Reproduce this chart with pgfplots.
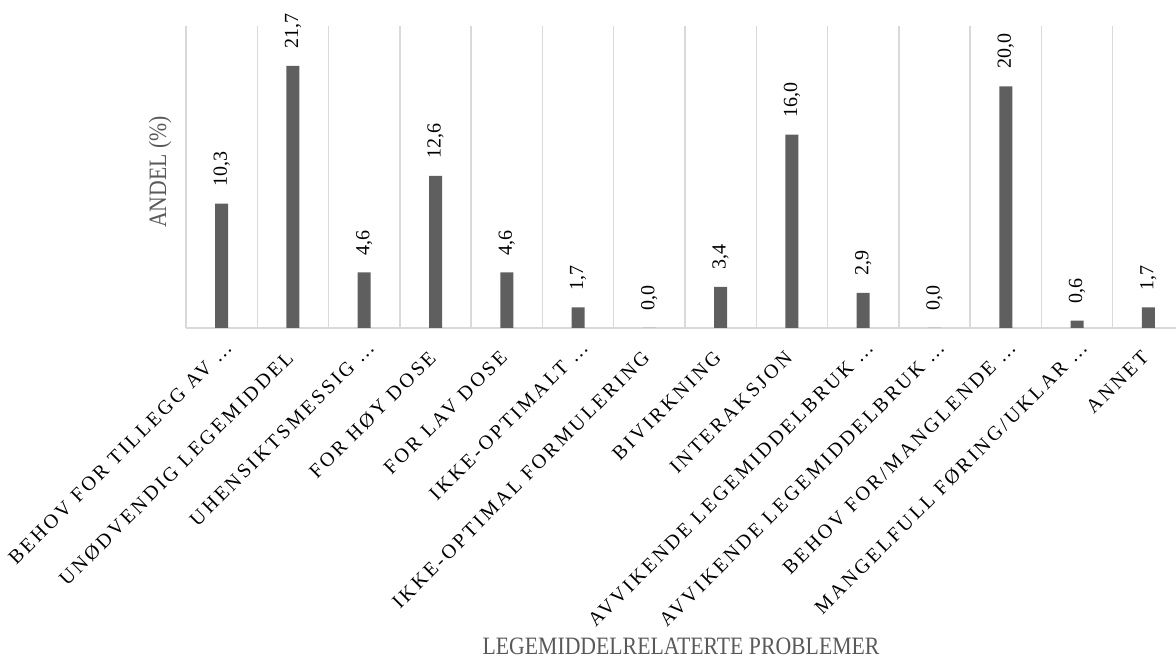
\documentclass[border=0pt]{standalone}
\usepackage{fontspec}
\setmainfont{Liberation Serif}
\newfontfamily\tickfont[LetterSpace=14]{Liberation Serif}
\newfontfamily\titlefont[FakeStretch=0.87]{Liberation Serif}
\usepackage{pgfplots}
\pgfplotsset{compat=1.18}
\definecolor{barc}{HTML}{5F5F5F}
\definecolor{gridc}{HTML}{D9D9D9}
\definecolor{titlec}{HTML}{595959}
\newcommand{\mytrunc}{…\kern-7pt\relax}
\begin{document}
\begin{tikzpicture}
\useasboundingbox (0,0) rectangle (588pt,331pt);
\clip (0,0) rectangle (588pt,331pt);
\begin{axis}[
  at={(93pt,167pt)}, anchor=south west,
  scale only axis, width=499pt, height=151pt,
  xmin=-0.5, xmax=13.5, ymin=0, ymax=25,
  separate axis lines,
  axis x line*=bottom, axis y line*=left,
  y axis line style={draw=none},
  x axis line style={gridc, line width=0.75pt},
  ytick=\empty,
  xtick={0,...,13}, major tick length=0pt,
  minor xtick={-0.5,0.5,...,13.5}, minor tick length=0pt,
  xminorgrids, minor grid style={gridc, line width=0.75pt},
  xticklabels={{BEHOV FOR TILLEGG AV \mytrunc}, UNØDVENDIG LEGEMIDDEL, {UHENSIKTSMESSIG \mytrunc}, FOR HØY DOSE, FOR LAV DOSE, {IKKE-OPTIMALT \mytrunc}, IKKE-OPTIMAL FORMULERING, BIVIRKNING, INTERAKSJON, {AVVIKENDE LEGEMIDDELBRUK \mytrunc}, {AVVIKENDE LEGEMIDDELBRUK \mytrunc}, {BEHOV FOR/MANGLENDE \mytrunc}, {MANGELFULL FØRING/UKLAR \mytrunc}, ANNET},
  xticklabel style={font=\tickfont\fontsize{10}{12}\selectfont, xshift=-4pt, yshift=-10.6pt, rotate=45, anchor=north east, inner sep=0pt},
  /pgf/number format/assume math mode=true,
  ybar, bar width=6.5pt, bar shift=0pt,
  nodes near coords={\pgfmathprintnumber[fixed, fixed zerofill, precision=1, use comma]{\pgfplotspointmeta}},
  every node near coord/.append style={rotate=90, anchor=west, font=\fontsize{10}{12}\selectfont, inner xsep=8.5pt, inner ysep=0pt, text=black},
  xlabel={LEGEMIDDELRELATERTE PROBLEMER},
  xlabel style={at={(axis description cs:0.496,-1.053)}, anchor=center, font=\titlefont\fontsize{12.5}{14}\selectfont, text=titlec},
  ylabel={ANDEL (\%)},
  ylabel style={at={(axis description cs:-0.026,0.517)}, anchor=center, font=\titlefont\fontsize{12.5}{14}\selectfont, text=titlec},
]
\addplot[fill=barc, draw=none] coordinates {
  (0,10.3) (1,21.7) (2,4.6) (3,12.6) (4,4.6) (5,1.7) (6,0.0)
  (7,3.4) (8,16.0) (9,2.9) (10,0.0) (11,20.0) (12,0.6) (13,1.7)
};
\end{axis}
\end{tikzpicture}
\end{document}
